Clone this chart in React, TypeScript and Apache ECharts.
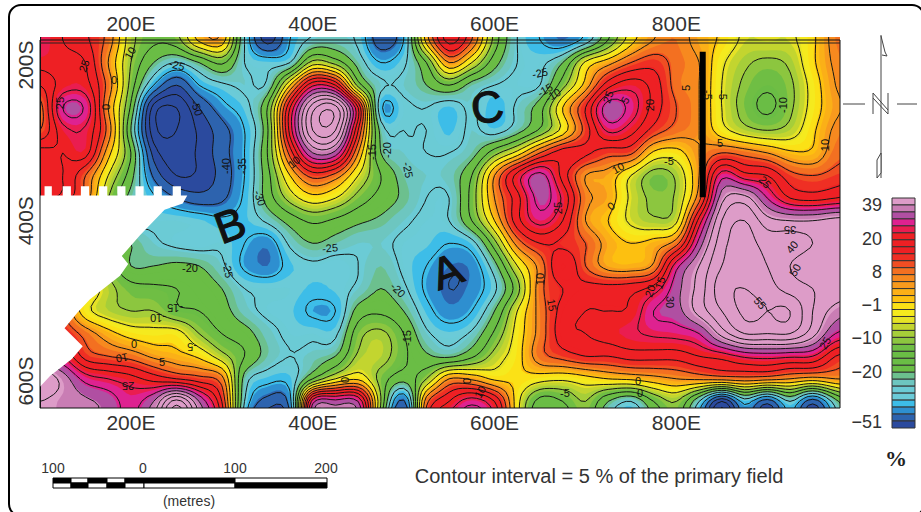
import React, { useEffect, useRef } from "react";
import * as echarts from "echarts";

const FONT = "'Liberation Sans', Arial, sans-serif";
const eastings = [100,125,150,175,200,225,250,275,300,325,350,375,400,425,450,475,500,525,550,575,600,625,650,675,700,725,750,775,800,825,850,875,900,925,950,975,1000];
const southings = [200,225,250,275,300,325,350,375,400,425,450,475,500,525,550,575,600,625];

const r200 = [25,20,16,8,-8,-14,-12,1,3,-25,-42,-30,-24,-23,-26,-38,-30,2,22,10,-12,-25,-30,-34,-28,-15,-2,5,7,3,-1,-6,-6,-6,-1,7,8];
const r225 = [22,22,20,5,-10,-20,-25,-20,-14,-25,-27,-25,-8,-12,-22,-30,-26,-15,5,-5,-18,-25,-26,-20,-4,3,10,13,8,5,-4,-9,-11,-9,-1,6,8];
const r250 = [15,22,22,8,-12,-30,-40,-30,-26,-24,-24,0,24,20,-12,-24,-24,-20,-15,-22,-25,-26,-25,-12,2,18,23,18,8,5,-5,-11,-14,-11,-3,5,7];
const r275 = [8,30,29,5,-16,-47,-50,-40,-32,-27,-15,20,48,52,20,-29,-26,-25,-28,-24,-29,-24,-17,0,15,33,28,18,10,5,-5,-12,-16,-11,-3,4,6];
const r300 = [10,23,24,8,-20,-48,-50,-44,-37,-30,-16,22,50,50,15,-22,-25,-25,-28,-24,-27,-22,-14,-3,12,26,22,13,8,5,-3,-8,-10,-8,-1,6,8];
const r325 = [22,20,22,2,-15,-42,-48,-44,-37,-30,-15,12,35,33,5,-20,-24,-25,-25,-22,-12,-3,10,18,16,12,11,-1,-2,5,10,8,5,1,1,8,9];
const r350 = [20,20,10,-5,-18,-36,-45,-44,-38,-30,-17,0,12,8,-5,-15,-22,-24,-23,-15,5,22,32,18,5,3,-5,-12,-9,5,28,22,20,12,10,12,14];
const r375 = [22,18,8,-10,-22,-29,-35,-38,-36,-29,-18,-8,-2,-5,-12,-17,-21,-25,-25,-13,5,18,32,24,7,3,-6,-11,-9,8,38,42,30,20,18,20,22];
const r400 = [5,0,-5,-15,-25,-26,-26,-27,-29,-28,-24,-18,-14,-16,-19,-21,-24,-26,-25,-15,0,18,27,20,5,0,-6,-9,-6,22,45,50,42,40,40,42,42];
const r425 = [0,-5,-10,-15,-20,-24,-26,-27,-26,-30,-33,-24,-20,-22,-24,-24,-26,-27,-30,-27,-12,7,15,14,10,3,0,2,8,32,48,52,48,48,45,42,42];
const r450 = [5,0,-5,-12,-20,-20,-19,-20,-24,-31,-34,-28,-26,-27,-25,-22,-26,-30,-34,-33,-22,-5,7,20,10,3,2,6,28,40,50,53,50,45,41,42,42];
const r475 = [5,3,0,-8,-13,-14,-15,-17,-20,-25,-26,-26,-28,-27,-24,-20,-24,-31,-35,-33,-26,-12,8,15,17,17,18,22,33,42,53,55,52,48,45,43,43];
const r500 = [20,10,-3,-8,-10,-10,-14,-15,-18,-23,-26,-27,-31,-30,-18,-16,-20,-28,-33,-30,-20,-5,7,17,20,20,21,30,33,42,50,56,55,55,45,38,35];
const r525 = [20,15,8,2,-2,-3,-3,-10,-15,-18,-23,-26,-26,-26,-12,-9,-15,-24,-27,-24,-14,-3,7,18,20,22,24,26,27,30,42,50,50,50,42,30,28];
const r550 = [30,25,13,10,8,4,2,-1,-8,-15,-22,-25,-23,-20,-9,-8,-14,-19,-21,-16,-8,-2,8,12,15,15,17,17,17,20,22,26,27,26,25,15,12];
const r575 = [45,38,28,25,22,18,15,12,7,-22,-28,-28,-15,-5,-1,-12,-18,-10,5,4,-1,-1,-3,-4,-2,0,1,3,5,6,7,8,7,5,3,5,5];
const r600 = [40,38,36,33,28,35,52,35,15,-25,-37,-32,28,32,30,-10,-36,8,20,28,20,-3,-17,-15,-10,-20,-25,-15,-10,-25,-45,-28,-38,-25,-38,-22,-10];
const r625 = [40,38,36,33,28,40,60,40,20,-30,-45,-38,35,40,36,-15,-45,12,28,35,25,-3,-20,-18,-12,-24,-30,-20,-12,-30,-52,-32,-45,-30,-45,-26,-12];
const fieldRows = [r200,r225,r250,r275,r300,r325,r350,r375,r400,r425,r450,r475,r500,r525,r550,r575,r600,r625];

// colour bands, top of the scale first, with the lowest value each is used from
const bandColors = ["#dd9cc8","#c97db4","#b04fa2","#de2290","#ea1d50","#ee2024","#ee2024","#ee2024","#ef2f24","#f04e23","#f37021","#f7891f","#f89a1d","#fbb017","#fdc010","#fbe116","#f5ea1e","#e5e226","#c3d52f","#a6ce39","#8cc63f","#6fbe44","#6abd45","#6abd45","#6abd45","#6cc08e","#6dc6c0","#6bcbd5","#6bcbd8","#3dbde8","#2e8fd0","#2d63ae","#2b4a9e"];
const bandFloors = [38.5,34.7,31,27,23,19.6,17,14.4,11.9,9.4,7,5.2,3.3,1.4,-0.5,-2.4,-4.3,-6.2,-8.1,-10,-12,-14,-16.2,-18.2,-20,-22,-24,-26,-27.5,-31,-34,-40,-200];
const contourLevels = [-50,-45,-40,-35,-30,-25,-20,-15,-10,-5,0,5,10,15,20,25,30,35,40,45,50,55];
const legendLabels = ["39","20","8","−1","−10","−20","−51"];
const legendLabelPos = [32,27.1,22.4,17.6,12.9,8,0.86];
const xTicks = [200,400,600,800];
const yTicks = [200,400,600];
const yLabelPos = [227.7,400,577.4];
const yLabelText = ["200S","400S","600S"];

// the area without data, in survey coordinates
const noDataEdge = [[100,372],[105,372],[105,362],[113,362],[113,372],[125,372],[125,362],[134,362],[134,372],[145,372],[145,362],[154,362],[154,372],[165,372],[165,362],[174,362],[174,372],[185,372],[185,362],[194,362],[194,372],[205,372],[205,362],[214,362],[214,372],[225,372],[225,362],[234,362],[234,372],[246,372],[246,362],[255,362],[255,372],[262,372],[257,381],[237,388],[210,416],[190,439],[197,448],[188,461],[174,472],[155,487],[141,502],[127,519],[147,539],[135,553],[111,572],[98,586],[98,607.3],[98,372]];
const lineE = [829,829];
const lineS = [213,374];

const contourLabels: [string,number,number,number][] = [
  ["-25",177,65,-15],["-50",197,108,-70],["25",60,103,90],["25",84,66,70],["0",114,80,0],["0",106,107,90],["10",130,53,60],
  ["-40",226,166,90],["-35",242,166,90],["-30",260,198,-70],["-25",408,170,-80],["-25",330,248,5],["-15",372,152,90],["-20",387,150,90],["10",294,162,40],
  ["-25",540,73,12],["5",686,88,90],["-5",708,95,-90],["-5",723,95,-90],["-10",783,105,90],["-5",669,161,0],["10",618,168,30],["0",611,206,40],["25",558,208,90],
  ["25",608,97,70],["20",650,105,90],["5",720,143,0],["10",825,145,90],["25",765,182,-50],["35",790,230,180],["-20",190,268,0],["-25",228,270,-80],
  ["-15",175,308,180],["-10",158,318,180],["0",134,344,0],["-5",192,347,180],["10",122,358,190],["5",162,362,0],["25",128,386,180],["-20",398,290,-45],["-15",407,338,90],
  ["0",345,380,90],["0",467,381,90],["10",480,392,60],["-5",565,393,0],["0",638,381,0],["0",640,393,0],["10",540,279,90],["15",552,305,-80],["15",660,283,70],["20",650,291,70],
  ["30",670,302,-90],["55",760,303,-50],["25",825,343,60],["50",795,270,60],["40",792,247,50],["5",625,100,60],["-15",545,90,30],["-10",553,95,30]
];
const scaleBarRows: [number,number,number][] = [
  [53,71,1],[71,88,0],[88,107,1],[107,125,0],[125,144,1],[144,235,1],[235,327,0],
  [53,71,0],[71,88,1],[88,107,0],[107,125,1],[125,144,0],[144,235,0],[235,327,1]
];
const scaleLabels: [string,number][] = [["100",53],["0",143],["100",235],["200",326]];

const UP = 5;
function cubic(a:number,b:number,c:number,d:number,t:number){
  return b+0.5*t*(c-a+t*(2*a-5*b+4*c-d+t*(3*(b-c)+d-a)));
}
// surface for shading: the read rows, with the top row repeated above the frame
const sourceRows = [r200, ...fieldRows];
const srcS = [175, ...southings];
const nI = (eastings.length-1)*UP+1, nJ = (srcS.length-1)*UP+1;
const W = nI+2, H = nJ+2;
const nodes = new Float32Array(W*H).fill(-999);
for (let j=0;j<nJ;j++){
  const fj=j/UP, j1=Math.floor(fj), tj=fj-j1;
  for (let i=0;i<nI;i++){
    const fi=i/UP, i1=Math.floor(fi), ti=fi-i1;
    const col=(k:number)=>{
      const row=sourceRows[Math.max(0,Math.min(sourceRows.length-1,j1+k))];
      return cubic(row[Math.max(0,i1-1)],row[i1],row[Math.min(row.length-1,i1+1)],row[Math.min(row.length-1,i1+2)],ti);
    };
    nodes[(j+1)*W+i+1]=cubic(col(-1),col(0),col(1),col(2),tj);
  }
}
const gx=(i:number)=>eastings[0]+(i-1)*25/UP;
const gy=(j:number)=>srcS[0]+(j-1)*25/UP;

function tracePath(level:number, coord:(p:number[])=>number[]){
  const next=new Map<number,number>();
  const H_=(i:number,j:number)=>2*(j*W+i);
  const V_=(i:number,j:number)=>2*(j*W+i)+1;
  const add=(a:number,b:number)=>next.set(a,b);
  for(let j=0;j<H-1;j++)for(let i=0;i<W-1;i++){
    const a=nodes[j*W+i]>=level,b=nodes[j*W+i+1]>=level,c=nodes[(j+1)*W+i+1]>=level,d=nodes[(j+1)*W+i]>=level;
    const code=(a?8:0)+(b?4:0)+(c?2:0)+(d?1:0);
    if(code===0||code===15)continue;
    const T=H_(i,j),B=H_(i,j+1),L=V_(i,j),R=V_(i+1,j);
    switch(code){
      case 8:add(L,T);break;case 4:add(T,R);break;case 2:add(R,B);break;case 1:add(B,L);break;
      case 12:add(L,R);break;case 6:add(T,B);break;case 3:add(R,L);break;case 9:add(B,T);break;
      case 7:add(T,L);break;case 11:add(R,T);break;case 13:add(B,R);break;case 14:add(L,B);break;
      case 10:add(L,T);add(R,B);break;case 5:add(T,R);add(B,L);break;
    }
  }
  const pt=(e:number)=>{
    const vert=e%2===1;const id=Math.floor(e/2);const j=Math.floor(id/W);const i=id-j*W;
    const v1=nodes[j*W+i];const v2=vert?nodes[(j+1)*W+i]:nodes[j*W+i+1];
    const t=(level-v1)/(v2-v1);
    const x=gx(vert?i:i+t),y=gy(vert?j+t:j);
    return coord([x,y]);
  };
  let d="";
  const seen=new Set<number>();
  next.forEach((_,start)=>{
    if(seen.has(start))return;
    let e=start;let first=true;
    while(!seen.has(e)&&next.has(e)){
      seen.add(e);
      const p=pt(e);
      d+=(first?"M":"L")+p[0].toFixed(1)+" "+p[1].toFixed(1);
      first=false;
      e=next.get(e)!;
    }
    d+="Z";
  });
  return d;
}

function buildOption(){
  const ordered=bandFloors.map((f,i)=>({f,c:bandColors[i]})).reverse();
  const txt=(text:string,x:number,y:number,size:number,extra:any={})=>({type:"text",x,y,z:20,style:{text,fontFamily:FONT,fontSize:size,fill:"#333",align:"center",verticalAlign:"middle",...extra}});
  const letter=(t:string,x:number,y:number,rot:number)=>({type:"text",x,y,rotation:rot,z:16,style:{text:t,fontFamily:FONT,fontSize:44,fill:"#111",stroke:"#111",lineWidth:1.2,align:"center",verticalAlign:"middle"}});
  const graphic:any[]=[
    {type:"rect",z:30,shape:{x:9,y:5,width:915,height:511,r:12},style:{fill:"none",stroke:"#000",lineWidth:2}},
    {type:"rect",z:15,shape:{x:40,y:40,width:800,height:368},style:{fill:"none",stroke:"#111",lineWidth:1}},
    {type:"line",z:15,shape:{x1:40,y1:43,x2:840,y2:43},style:{stroke:"#222",lineWidth:1}},
    ...contourLabels.map(([t,x,y,rot])=>({type:"text",x,y,rotation:rot*Math.PI/180,z:16,style:{text:t,fontFamily:FONT,fontSize:11,fill:"#111",align:"center",verticalAlign:"middle"}})),
    letter("B",230,225,0.35),letter("A",447,271,0.35),letter("C",487,107,0.2),
    // north arrow
    {type:"line",z:15,shape:{x1:881,y1:35,x2:881,y2:178},style:{stroke:"#444",lineWidth:1}},
    {type:"polyline",z:15,shape:{points:[[881,36],[885,52],[887,56],[882,55]]},style:{fill:"none",stroke:"#444",lineWidth:1}},
    {type:"polygon",z:15,shape:{points:[[881,153],[877,160],[877,178],[881,173]]},style:{fill:"#fff",stroke:"#444",lineWidth:1}},
    {type:"polyline",z:15,shape:{points:[[873,114],[873,93],[888,110],[888,93]]},style:{fill:"none",stroke:"#444",lineWidth:1}},
    {type:"polyline",z:15,shape:{points:[[873,98],[888,114],[888,110]]},style:{fill:"none",stroke:"#444",lineWidth:1}},
    {type:"line",z:15,shape:{x1:843,y1:104,x2:865,y2:104},style:{stroke:"#444",lineWidth:1}},
    {type:"line",z:15,shape:{x1:897,y1:104,x2:917,y2:104},style:{stroke:"#444",lineWidth:1}},
    // scale bar
    ...scaleBarRows.map(([a,b,black],i)=>({type:"rect",z:15,shape:{x:a,y:i<7?478:483,width:b-a,height:5},style:{fill:black?"#000":"#fff",stroke:"#000",lineWidth:1}})),
    ...scaleLabels.map(([t,x])=>txt(t,x,468,14)),
    txt("(metres)",189,501,14),
    txt("Contour interval = 5 % of the primary field",599,476,20),
    {type:"text",x:896,y:458,z:20,style:{text:"%",fontFamily:"'Liberation Serif', serif",fontSize:22,fontWeight:"bold",fill:"#222",align:"center",verticalAlign:"middle"}},
  ];
  const mainAxis=(position:string,showLabel=true)=>({
    type:"value",position,min:100,max:980,gridIndex:0,
    axisLine:{show:false},splitLine:{show:false},
    axisTick:{show:true,inside:true,length:8,customValues:xTicks,lineStyle:{color:"#222"}},
    axisLabel:{show:showLabel,customValues:xTicks,formatter:(v:number)=>`${v}E`,fontFamily:FONT,fontSize:21,color:"#333",margin:position==="top"?3:4},
  });
  return {
    animation:false,
    backgroundColor:"#fff",
    graphic,
    grid:[
      {left:40,top:37,width:800,height:371},
      {left:892,top:198,width:23,height:230},
    ],
    xAxis:[
      mainAxis("bottom"),
      mainAxis("top"),
      {type:"value",gridIndex:1,min:0,max:1,show:false},
    ],
    yAxis:[
      {type:"value",gridIndex:0,inverse:true,min:196.7,max:607.3,
        axisLine:{show:false},splitLine:{show:false},
        axisTick:{show:true,inside:true,length:9,customValues:yTicks,lineStyle:{color:"#222"}},
        axisLabel:{customValues:yLabelPos,rotate:90,margin:4,fontFamily:FONT,fontSize:21,color:"#333",
          formatter:(v:number)=>yLabelText[yLabelPos.indexOf(v)]}},
      {type:"value",gridIndex:1,min:0,max:33,position:"left",
        axisLine:{show:false},axisTick:{show:false},splitLine:{show:false},
        axisLabel:{customValues:legendLabelPos,margin:10,fontFamily:FONT,fontSize:18,color:"#333",
          formatter:(v:number)=>legendLabels[legendLabelPos.indexOf(v)]}},
    ],
    series:[
      {type:"custom",xAxisIndex:0,yAxisIndex:0,clip:true,z:2,silent:true,
        data:ordered.map((b,i)=>[100,300,i]),
        renderItem:(p:any,api:any)=>{
          const b=ordered[api.value(2)];
          return {type:"path",shape:{pathData:tracePath(b.f,(c)=>api.coord(c))},style:{fill:b.c}};
        }},
      {type:"custom",xAxisIndex:0,yAxisIndex:0,clip:true,z:3,silent:true,
        data:contourLevels.map((l)=>[100,300,l]),
        renderItem:(p:any,api:any)=>({type:"path",shape:{pathData:tracePath(api.value(2),(c)=>api.coord(c))},style:{fill:"none",stroke:"#151515",lineWidth:1}})},
      {type:"custom",xAxisIndex:0,yAxisIndex:0,clip:true,z:4,silent:true,
        data:[[100,300]],
        renderItem:(p:any,api:any)=>({type:"polygon",shape:{points:noDataEdge.map((c)=>api.coord(c))},style:{fill:"#fff"}})},
      {type:"line",xAxisIndex:0,yAxisIndex:0,z:5,silent:true,symbol:"none",
        data:lineE.map((e,i)=>[e,lineS[i]]),lineStyle:{color:"#000",width:6,cap:"butt"}},
      {type:"custom",xAxisIndex:2,yAxisIndex:1,silent:true,z:3,
        data:bandColors.map((c,i)=>[0,32-i,i]),
        renderItem:(p:any,api:any)=>{
          const a=api.coord([0,api.value(1)+1]);const b=api.coord([1,api.value(1)]);
          return {type:"rect",shape:{x:a[0],y:a[1],width:b[0]-a[0],height:b[1]-a[1]},style:{fill:bandColors[api.value(2)],stroke:"#333",lineWidth:1}};
        }},
    ],
  };
}

export default function App(){
  const ref=useRef<HTMLDivElement>(null);
  useEffect(()=>{
    document.body.style.margin="0";
    const chart=echarts.init(ref.current!,undefined,{renderer:"svg"});
    chart.setOption(buildOption() as any);
    return ()=>chart.dispose();
  },[]);
  return <div ref={ref} style={{position:"absolute",left:0,top:0,width:921,height:512}}/>;
}
